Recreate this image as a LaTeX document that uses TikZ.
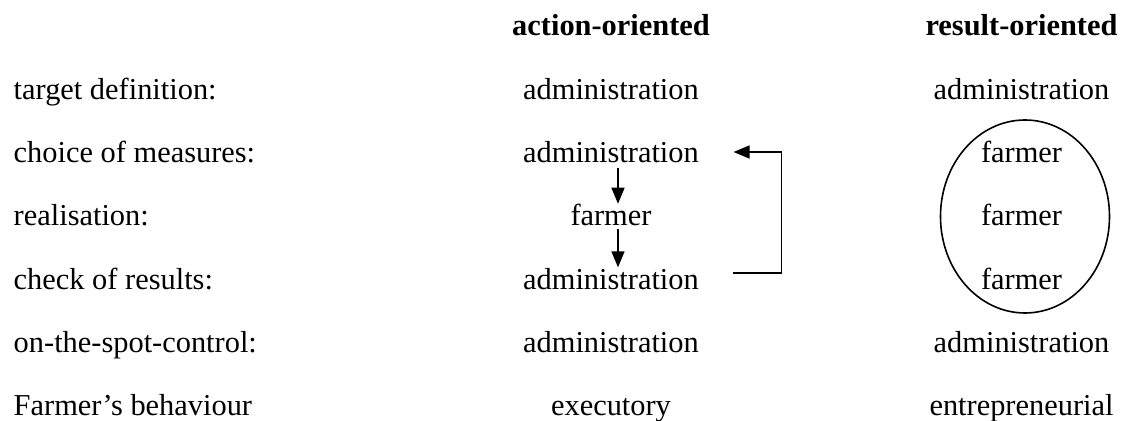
\documentclass[tikz,border=0pt]{standalone}
\usepackage{fontspec}
\setmainfont{Liberation Serif}
\usetikzlibrary{arrows.meta}
\tikzset{>={Triangle[width=6.5pt,length=8pt]}}
\tikzset{txt/.style={inner sep=0pt,anchor=base,font=\fontsize{15.2pt}{18pt}\selectfont}}
\tikzset{head/.style={txt,font=\fontsize{15.2pt}{18pt}\selectfont\bfseries}}

\begin{document}
\begin{tikzpicture}[line width=0.75pt]

  \newcommand\Y{31.65pt};
  \newcommand\Xl{6.5pt};
  \newcommand\Xm{305.5pt};
  \newcommand\Xr{510.75pt};

  \useasboundingbox (0pt,0pt) rectangle (562.5pt,-210.5pt);

  % column heads
  \node[head] (hm) at (\Xm,-18pt) {action-oriented};
  \node[head] (hr) at (\Xr,-18pt) {result-oriented};

  % left column
  \node[txt,anchor=base west] (l1) at (\Xl,-18pt-1*\Y) {target definition:};
  \node[txt,anchor=base west] (l2) at (\Xl,-18pt-2*\Y) {choice of measures:};
  \node[txt,anchor=base west] (l3) at (\Xl,-18pt-3*\Y) {realisation:};
  \node[txt,anchor=base west] (l4) at (\Xl,-18pt-4*\Y) {check of results:};
  \node[txt,anchor=base west] (l5) at (\Xl,-18pt-5*\Y) {on-the-spot-control:};
  \node[txt,anchor=base west] (l6) at (\Xl,-18pt-6*\Y) {Farmer’s behaviour};

  % action-oriented
  \node[txt] (m1) at (\Xm,-18pt-1*\Y) {administration};
  \node[txt] (m2) at (\Xm,-18pt-2*\Y) {administration};
  \node[txt] (m3) at (\Xm,-18pt-3*\Y) {farmer};
  \node[txt] (m4) at (\Xm,-18pt-4*\Y) {administration};
  \node[txt] (m5) at (\Xm,-18pt-5*\Y) {administration};
  \node[txt] (m6) at (\Xm,-18pt-6*\Y) {executory};

  % result-oriented
  \node[txt] (r1) at (\Xr,-18pt-1*\Y) {administration};
  \node[txt] (r2) at (\Xr,-18pt-2*\Y) {farmer};
  \node[txt] (r3) at (\Xr,-18pt-3*\Y) {farmer};
  \node[txt] (r4) at (\Xr,-18pt-4*\Y) {farmer};
  \node[txt] (r5) at (\Xr,-18pt-5*\Y) {administration};
  \node[txt] (r6) at (\Xr,-18pt-6*\Y) {entrepreneurial};

  \draw[->] ([xshift=3.5pt,yshift=-2.2pt]m2.south) -- ([xshift=3.5pt]m3.north);
  \draw[->] ([xshift=3.5pt,yshift=-1pt]m3.south) -- ([xshift=3.5pt]m4.north);

  % feedback loop
  \draw[->] ([xshift=16.5pt,yshift=8pt]m4.base east) -- ++(24.5pt,0pt)
    |- ([xshift=17pt,yshift=5.3pt]m2.base east);

  \draw[line width=0.8pt] (\Xr+1.75pt,-108.25pt) ellipse [x radius=42.25pt,y radius=48.25pt];
\end{tikzpicture}
\end{document}
